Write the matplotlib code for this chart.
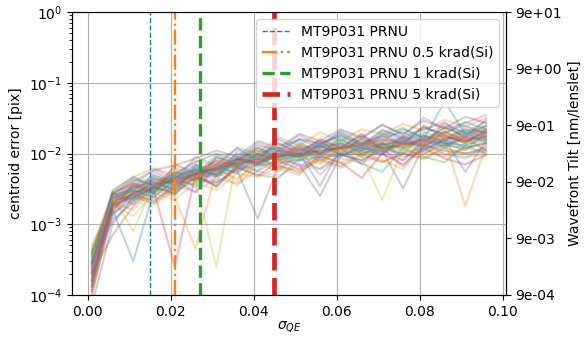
import numpy as np
import matplotlib
matplotlib.use("Agg")
from matplotlib import pyplot as plt

# sigma_QE sample points
sigma_qe = [0.001, 0.006, 0.011, 0.016, 0.021, 0.026, 0.031, 0.036, 0.041, 0.046,
            0.051, 0.056, 0.061, 0.066, 0.071, 0.076, 0.081, 0.086, 0.091, 0.096]

# centroid error per simulation run, in units of 1e-3 pix
centroid_err_mpix = [
    [0.20, 2.1, 2.6, 3.9, 3.1, 6.0, 5.2, 8.5, 7.0, 11, 8.8, 13, 9.5, 12, 10, 15, 11, 16, 12, 14],
    [0.35, 1.8, 3.4, 2.9, 4.8, 4.1, 7.2, 6.0, 9.8, 8.2, 12, 7.5, 13, 9.0, 14, 8.0, 15, 12, 17, 11],
    [0.15, 2.5, 2.2, 4.4, 3.6, 5.4, 7.8, 6.3, 10, 12, 9.0, 14, 11, 16, 12, 10, 18, 14, 11, 20],
    [0.28, 1.5, 3.8, 3.2, 5.5, 4.6, 6.0, 9.2, 7.1, 9.5, 14, 10, 12, 18, 13, 16, 12, 20, 15, 17],
    [0.12, 2.8, 1.9, 3.5, 2.6, 7.0, 4.8, 5.8, 8.5, 6.8, 11, 5.0, 9.8, 8.0, 12, 6.5, 14, 10, 8.5, 13],
    [0.42, 2.2, 3.0, 2.4, 4.2, 3.6, 8.8, 7.4, 12, 10, 16, 12, 19, 14, 17, 20, 15, 23, 18, 22],
    [0.18, 1.2, 2.0, 5.0, 3.8, 6.6, 5.5, 10, 8.0, 14, 10, 15, 12, 11, 20, 13, 17, 15, 24, 19],
    [0.25, 2.6, 4.2, 3.6, 6.2, 5.0, 9.5, 7.0, 11, 9.2, 7.8, 12, 16, 11, 9.5, 18, 13, 28, 16, 25],
    [0.09, 1.9, 1.3, 2.8, 2.2, 3.9, 3.0, 5.2, 4.6, 6.5, 5.8, 8.0, 6.2, 9.0, 7.5, 10, 8.2, 11, 9.0, 9.5],
    [0.30, 2.4, 3.2, 4.5, 2.5, 5.8, 4.0, 11, 8.5, 13, 15, 9.5, 18, 13, 22, 16, 19, 25, 20, 28],
    [0.16, 1.6, 0.3, 3.0, 4.2, 2.8, 6.8, 5.2, 9.0, 6.0, 10, 3.5, 12, 7.0, 14, 9.0, 11, 16, 5.5, 15],
    [0.38, 2.9, 4.6, 6.2, 4.9, 8.0, 6.5, 12, 10, 17, 13, 20, 15, 22, 19, 26, 21, 30, 24, 32],
    [0.22, 1.4, 2.4, 2.0, 3.3, 4.4, 3.7, 6.5, 5.0, 4.5, 8.5, 6.0, 10, 7.2, 5.5, 12, 9.0, 7.5, 13, 10],
    [0.13, 2.0, 3.6, 2.7, 7.0, 5.2, 4.6, 8.0, 12, 8.8, 11, 15, 10, 17, 12, 14, 24, 18, 14, 21],
    [0.45, 2.7, 2.3, 5.5, 4.0, 9.0, 6.8, 8.2, 14, 11, 18, 13, 21, 16, 26, 18, 32, 22, 27, 35],
    [0.20, 0.7, 1.8, 3.3, 2.9, 4.8, 3.4, 6.9, 5.6, 8.4, 7.0, 2.5, 9.5, 8.0, 11, 3.2, 13, 11, 10, 12],
    [0.27, 2.3, 3.9, 3.0, 5.8, 4.5, 7.5, 6.0, 8.2, 10, 9.0, 12, 14, 11, 17, 15, 20, 17, 22, 18],
    [0.11, 1.7, 2.8, 4.0, 3.2, 6.4, 5.8, 7.0, 9.6, 7.6, 12, 8.4, 10, 12, 9.8, 14, 10, 13, 16, 11],
    [0.33, 2.5, 2.0, 3.7, 5.6, 3.9, 0.25, 9.0, 7.2, 12, 9.4, 13, 11, 15, 13, 12, 16, 19, 14, 24],
    [0.17, 1.3, 2.9, 2.4, 4.5, 6.8, 5.0, 8.6, 6.4, 10, 8.0, 11, 9.2, 13, 10, 17, 12, 15, 13, 16],
    [0.24, 3.0, 4.7, 3.4, 5.2, 7.5, 10, 8.0, 13, 11, 16, 14, 18, 13, 21, 17, 23, 19, 28, 22],
    [0.14, 2.2, 2.6, 1.9, 3.0, 4.0, 6.0, 4.4, 7.5, 6.2, 5.0, 9.6, 7.2, 11, 8.0, 6.0, 13, 9.5, 12, 14],
    [0.40, 1.9, 3.3, 4.9, 3.8, 5.6, 4.8, 7.8, 11, 9.0, 13, 10, 16, 12, 15, 22, 17, 20, 25, 19],
    [0.19, 2.8, 3.7, 2.9, 0.25, 5.0, 8.2, 6.6, 9.0, 14, 10, 16, 12, 19, 11, 15, 14, 24, 17, 30],
    [0.31, 1.1, 2.1, 3.6, 5.0, 3.3, 6.2, 5.5, 7.8, 9.8, 6.5, 10, 8.8, 13, 11, 8.0, 15, 13, 17, 15],
    [0.23, 2.6, 4.0, 5.8, 6.8, 8.5, 11, 9.0, 15, 12, 19, 15, 22, 17, 25, 19, 29, 23, 33, 27],
    [0.10, 1.5, 2.5, 2.2, 3.4, 2.9, 4.4, 3.8, 5.6, 4.8, 7.0, 6.0, 8.5, 7.4, 9.6, 8.0, 11, 9.0, 12, 10],
    [0.36, 2.1, 3.1, 4.1, 4.6, 6.1, 5.4, 8.8, 6.8, 10, 12, 9.0, 14, 10, 12, 17, 13, 21, 15, 18],
    [0.21, 2.4, 0.8, 3.8, 3.0, 5.0, 6.5, 4.0, 8.4, 7.0, 10, 7.8, 11, 9.5, 2.2, 12, 10, 14, 11, 16],
    [0.29, 1.8, 3.5, 2.6, 4.0, 6.3, 4.9, 7.3, 5.8, 11, 8.5, 14, 10, 16, 12, 11, 18, 12, 20, 14],
    [0.13, 2.3, 3.0, 4.6, 3.5, 5.2, 7.0, 12, 8.0, 16, 11, 13, 20, 14, 18, 23, 16, 54, 19, 25],
    [0.50, 2.0, 1.6, 3.1, 2.4, 0.45, 5.6, 3.5, 7.3, 5.5, 9.5, 7.0, 12, 9.0, 14, 11, 9.5, 16, 1.8, 13],
    [0.26, 2.7, 4.4, 3.5, 5.4, 4.2, 9.0, 6.6, 10, 8.6, 13, 10, 15, 12, 18, 13, 25, 16, 22, 20],
    [0.16, 1.6, 2.7, 2.1, 3.6, 5.2, 3.4, 6.4, 4.8, 7.8, 6.0, 9.0, 7.5, 4.5, 10, 7.0, 12, 8.5, 7.0, 9.5],
    [0.34, 2.5, 3.4, 6.0, 4.4, 7.0, 6.0, 10, 8.6, 12, 11, 14, 17, 13, 19, 16, 22, 27, 19, 24],
    [0.07, 1.0, 2.4, 3.3, 2.7, 4.6, 3.9, 5.8, 1.2, 6.8, 5.4, 8.4, 6.6, 9.8, 7.6, 10, 8.6, 12, 10, 11],
    [0.24, 2.0, 3.0, 3.6, 4.0, 5.4, 6.6, 7.6, 9.0, 9.4, 11, 12, 11, 14, 15, 13, 17, 16, 18, 21],
    [0.14, 1.7, 2.6, 3.0, 4.8, 4.2, 5.8, 8.0, 7.0, 10, 9.2, 10, 13, 12, 11, 14, 15, 13, 17, 16],
    [0.32, 2.2, 2.9, 4.0, 3.5, 6.2, 5.4, 7.0, 8.8, 8.4, 12, 11, 10, 13, 16, 12, 14, 18, 15, 19],
    [0.19, 2.4, 3.5, 3.1, 4.3, 5.0, 6.9, 6.2, 9.2, 11, 10, 8.8, 14, 12, 13, 16, 12, 15, 19, 17],
    [0.27, 1.9, 2.4, 3.4, 4.6, 5.8, 5.0, 8.4, 7.6, 9.0, 10, 13, 9.6, 11, 14, 12, 16, 14, 13, 18],
    [0.12, 2.1, 3.2, 4.2, 3.9, 4.8, 7.2, 6.8, 8.0, 10, 11, 9.4, 12, 15, 11, 13, 15, 19, 16, 15],
    [0.37, 2.6, 3.0, 2.8, 5.0, 5.6, 6.0, 7.4, 10, 8.0, 9.6, 12, 14, 10, 13, 15, 18, 15, 21, 17],
    [0.21, 1.8, 2.7, 3.7, 4.1, 4.9, 6.4, 8.2, 7.4, 11, 9.8, 11, 12, 13, 16, 14, 13, 17, 15, 20],
    [0.16, 2.3, 3.3, 3.9, 3.0, 6.0, 5.6, 6.8, 9.4, 8.8, 12, 10, 13, 11, 14, 17, 15, 14, 18, 16],
    [0.29, 2.0, 2.8, 3.2, 4.4, 5.2, 6.2, 7.2, 8.4, 9.8, 9.0, 11, 12, 14, 12, 13, 16, 18, 14, 22],
    [0.23, 2.5, 3.7, 4.3, 4.8, 5.5, 7.6, 7.8, 8.6, 10, 12, 11, 13, 12, 15, 16, 14, 20, 17, 19],
    [0.11, 1.4, 2.2, 2.9, 3.6, 4.4, 5.2, 6.0, 6.8, 7.4, 8.0, 9.0, 9.4, 10, 11, 10, 12, 13, 12, 14],
]

# measured PRNU levels for the MT9P031 sensor
prnu_sigma = [0.015, 0.021, 0.027, 0.045]
prnu_labels = ["MT9P031 PRNU", "MT9P031 PRNU 0.5 krad(Si)",
               "MT9P031 PRNU 1 krad(Si)", "MT9P031 PRNU 5 krad(Si)"]

# right axis tick labels (wavefront tilt)
tilt_ticks = [9e-4, 9e-3, 9e-2, 9e-1, 9e0, 9e1]

fig, ax = plt.subplots(figsize=(5.86, 3.37), dpi=100)
fig.subplots_adjust(left=0.123, right=0.863, bottom=0.125, top=0.964)

for run in centroid_err_mpix:
    ax.plot(sigma_qe, np.array(run) * 1e-3, alpha=0.3, lw=1.5)

styles = [("tab:blue", "--", 1.0), ("tab:orange", "-.", 1.7),
          ("tab:green", "--", 2.4), ("tab:red", "--", 3.4)]
for s, lab, (c, ls, lw) in zip(prnu_sigma, prnu_labels, styles):
    ax.axvline(s, color=c, ls=ls, lw=lw, label=lab)

ax.set_yscale("log")
ax.set_ylim(1e-4, 1e0)
ax.grid(True)
ax.set_xlabel(r"$\sigma_{QE}$", labelpad=1)
ax.set_ylabel("centroid error [pix]")
ax.legend(loc="upper right")

ax2 = ax.twinx()
ax2.set_yscale("log")
ax2.set_ylim(tilt_ticks[0], tilt_ticks[-1])
ax2.set_yticks(tilt_ticks)
ax2.set_yticklabels(["%.0e" % t for t in tilt_ticks])
ax2.minorticks_off()
ax2.set_ylabel("Wavefront Tilt [nm/lenslet]")

plt.savefig("out.png", dpi=100)
